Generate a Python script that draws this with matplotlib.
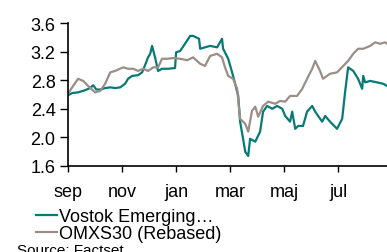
import matplotlib.pyplot as plt

plt.rcParams['font.family'] = ['Liberation Sans', 'DejaVu Sans']

# months since start of september
vostok_x = [0, 0.15, 0.37, 0.63, 0.81, 0.93, 1.04, 1.19, 1.37, 1.56, 1.74, 1.93, 2.11, 2.22, 2.37,
            2.59, 2.74, 2.85, 2.96, 3.04, 3.11, 3.22, 3.33, 3.48, 3.70, 3.96, 4.0, 4.15, 4.33, 4.52,
            4.63, 4.85, 4.89, 5.07, 5.26, 5.52, 5.70, 5.74, 5.93, 6.11, 6.30, 6.37, 6.48, 6.56, 6.67,
            6.74, 6.93, 7.11, 7.22, 7.37, 7.56, 7.74, 7.93, 8.04, 8.22, 8.30, 8.41, 8.52, 8.70, 8.85,
            9.04, 9.15, 9.26, 9.41, 9.52, 9.70, 9.96, 10.15, 10.26, 10.37, 10.56, 10.74, 10.89, 10.93,
            11.0, 11.19, 11.44, 11.67, 11.81]
vostok_y = [2.59, 2.62, 2.63, 2.66, 2.69, 2.73, 2.67, 2.67, 2.69, 2.70, 2.69, 2.70, 2.75, 2.82, 2.86,
            2.87, 2.91, 3.01, 3.12, 3.17, 3.28, 3.12, 2.93, 2.96, 2.96, 2.97, 3.19, 3.21, 3.31, 3.42,
            3.42, 3.38, 3.24, 3.26, 3.28, 3.26, 3.38, 3.24, 3.10, 2.86, 2.58, 2.22, 1.98, 1.80, 1.74,
            1.98, 1.94, 2.08, 2.36, 2.44, 2.40, 2.44, 2.40, 2.30, 2.22, 2.36, 2.12, 2.16, 2.16, 2.36,
            2.44, 2.36, 2.30, 2.22, 2.30, 2.22, 2.12, 2.26, 2.64, 2.98, 2.93, 2.82, 2.68, 2.86,
            2.77, 2.79, 2.77, 2.75, 2.72]

omx_x = [0, 0.15, 0.37, 0.56, 0.74, 1.0, 1.19, 1.37, 1.56, 1.74, 2.04, 2.22, 2.41, 2.59, 2.78, 2.96,
         3.15, 3.33, 3.48, 3.67, 3.89, 4.15, 4.41, 4.63, 4.89, 5.07, 5.26, 5.52, 5.70, 5.81, 5.93,
         6.11, 6.26, 6.37, 6.56, 6.67, 6.81, 6.93, 7.04, 7.22, 7.41, 7.67, 7.85, 8.04, 8.22, 8.48,
         8.67, 8.85, 9.04, 9.15, 9.33, 9.44, 9.70, 9.96, 10.19, 10.37, 10.56, 10.74, 10.93, 11.19,
         11.37, 11.56, 11.74, 11.81]
omx_y = [2.61, 2.70, 2.82, 2.79, 2.72, 2.63, 2.65, 2.75, 2.91, 2.93, 2.98, 2.96, 2.96, 2.93, 2.96, 2.93,
         2.98, 2.98, 3.10, 3.10, 3.11, 3.10, 3.08, 3.12, 3.03, 3.00, 3.14, 3.17, 3.12, 2.98, 2.86,
         2.82, 2.68, 2.26, 2.19, 2.08, 2.37, 2.43, 2.29, 2.44, 2.50, 2.47, 2.51, 2.50, 2.58, 2.58,
         2.68, 2.82, 2.96, 3.07, 2.93, 2.82, 2.89, 2.91, 3.00, 3.07, 3.17, 3.24, 3.24, 3.28,
         3.33, 3.31, 3.33, 3.31]

months = ['sep', 'nov', 'jan', 'mar', 'maj', 'jul']
month_pos = [0, 2, 4, 6, 8, 10]

fig = plt.figure(figsize=(3.87, 2.53), dpi=100)
ax = fig.add_axes([0.176, 0.34, 0.824, 0.565])

ax.plot(vostok_x, vostok_y, color='#087a76', linewidth=1.6, label='Vostok Emerging…')
ax.plot(omx_x, omx_y, color='#9a8e87', linewidth=1.6, label='OMXS30 (Rebased)')

ax.set_xlim(0, 11.81)
ax.set_ylim(1.6, 3.6)
ax.set_yticks([1.6, 2.0, 2.4, 2.8, 3.2, 3.6])
ax.set_yticklabels(['1.6', '2.0', '2.4', '2.8', '3.2', '3.6'])
ax.set_xticks(month_pos)
ax.set_xticklabels(months)
ax.tick_params(labelsize=13, width=1, color='black')
ax.tick_params(axis='y', length=6, pad=3)
ax.tick_params(axis='x', length=4.5, pad=8)
for s in ['top', 'right']:
    ax.spines[s].set_visible(False)
for s in ['left', 'bottom']:
    ax.spines[s].set_linewidth(1.2)

fig.legend(loc='upper left', bbox_to_anchor=(0.093, 0.172), frameon=False, fontsize=13,
           handlelength=1.15, handletextpad=0.1, labelspacing=0.0, borderpad=0, borderaxespad=0)
fig.text(0.044, -0.008, 'Source: Factset', fontsize=11, va='baseline')

fig.savefig('out.png', dpi=100)
